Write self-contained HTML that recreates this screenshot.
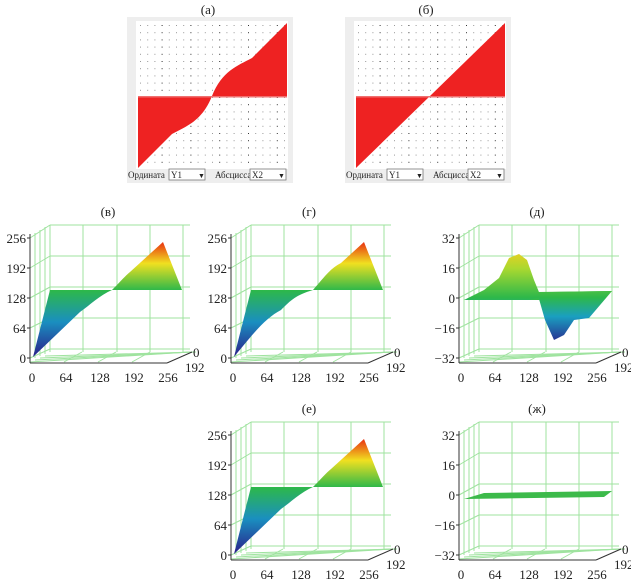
<!DOCTYPE html><html><head><meta charset="utf-8"><style>
body{margin:0;background:#fff;width:631px;height:585px;overflow:hidden}
svg{display:block}
text{font-family:"Liberation Serif",serif;fill:#222}
</style></head><body>
<svg id="s" width="631" height="585" viewBox="0 0 631 585" xmlns="http://www.w3.org/2000/svg">
<defs>
<linearGradient id="gA" gradientUnits="userSpaceOnUse" x1="0" y1="357" x2="0" y2="240">
<stop offset="0" stop-color="#2a1f8a"/><stop offset="0.3" stop-color="#1a8fc0"/><stop offset="0.57" stop-color="#2db84a"/><stop offset="0.8" stop-color="#f0e020"/><stop offset="1" stop-color="#e82010"/></linearGradient>
<linearGradient id="gD" gradientUnits="userSpaceOnUse" x1="0" y1="345" x2="0" y2="250">
<stop offset="0" stop-color="#2a1f8a"/><stop offset="0.3" stop-color="#1a9fc0"/><stop offset="0.5" stop-color="#2db84a"/><stop offset="0.8" stop-color="#a8d830"/><stop offset="1" stop-color="#f0d020"/></linearGradient>
</defs>
<g id="top"></g>
<g id="p"></g>
</svg>
<script>
const NS="http://www.w3.org/2000/svg";
const P=document.getElementById('p');
function el(t,a,par,txt){const e=document.createElementNS(NS,t);for(const k in a)e.setAttribute(k,a[k]);if(txt!==undefined)e.textContent=txt;(par||P).appendChild(e);return e;}
const T=document.getElementById('top');
function topPanel(ox,title,curvy){
  el('text',{x:ox+81,y:14,'font-size':13,'text-anchor':'middle'},T,title);
  el('rect',{x:ox,y:17,width:166,height:166,fill:'#eeeeee'},T);
  el('rect',{x:ox+9,y:21,width:152,height:148,fill:'#fff'},T);
  for(let x=ox+13;x<ox+160;x+=7.2)for(let y=25;y<168;y+=7.2)el('rect',{x:x,y:y,width:1,height:1,fill:(Math.round((x-ox-13)/7.2)%4==3)?'#333':'#999'},T);
  const cx=ox+85,cy=96,L=ox+11,R=ox+160;
  if(curvy){
    el('path',{d:`M${cx},${cy} C${cx+10},${cy-25} ${cx+25},${cy-30} ${cx+40},${cy-38} L${R},23 L${R},${cy} Z`,fill:'#ee2222'},T);
    el('path',{d:`M${cx},${cy} C${cx-10},${cy+25} ${cx-25},${cy+30} ${cx-40},${cy+38} L${L},168 L${L},${cy} Z`,fill:'#ee2222'},T);
  }else{
    el('path',{d:`M${cx},${cy} L${R},23 L${R},${cy} Z`,fill:'#ee2222'},T);
    el('path',{d:`M${cx},${cy} L${L},168 L${L},${cy} Z`,fill:'#ee2222'},T);
  }
  el('rect',{x:L,y:cy,width:R-L,height:1.5,fill:'#f07070'},T);
  el('text',{x:ox+1,y:178,'font-size':9},T,'Ордината');
  el('rect',{x:ox+42,y:169,width:36,height:11,fill:'#fff',stroke:'#777','stroke-width':0.8},T);
  el('text',{x:ox+44,y:178,'font-size':9},T,'Y1');
  el('text',{x:ox+71,y:178,'font-size':7},T,'▼');
  el('text',{x:ox+88,y:178,'font-size':9},T,'Абсцисса');
  el('rect',{x:ox+123,y:169,width:36,height:11,fill:'#fff',stroke:'#777','stroke-width':0.8},T);
  el('text',{x:ox+125,y:178,'font-size':9},T,'X2');
  el('text',{x:ox+151,y:178,'font-size':7},T,'▼');
}
topPanel(127,'(а)',true);
topPanel(345,'(б)',false);

const gc='#9fe39f';
function frame(ox,oy,title,ylabs){
  const g=el('g',{transform:`translate(${ox},${oy})`});
  el('text',{x:108,y:216,'font-size':13,'text-anchor':'middle'},g,title);
  const bx=[50,83,117,150,183], by=[225,256,287,318,349];
  bx.forEach(x=>el('line',{x1:x,y1:225,x2:x,y2:352,stroke:gc,'stroke-width':1},g));
  by.forEach(y=>el('line',{x1:50,y1:y,x2:190,y2:y,stroke:gc,'stroke-width':1},g));
  [0,1,2,3,4].forEach(i=>{const fy=238+30*i;el('line',{x1:30,y1:fy,x2:50,y2:225+31*i,stroke:gc},g);});
  for(let k=1;k<4;k++)el('line',{x1:30+k*5,y1:236-k*3,x2:30+k*5,y2:360-k*2,stroke:gc},g);
  for(let k=0;k<4;k++)el('line',{x1:30+k*5,y1:362-k*2,x2:190+k*2,y2:352,stroke:gc},g);
  [64,98,132].forEach(x=>el('line',{x1:x,y1:362,x2:x+18,y2:352,stroke:gc},g));
  el('line',{x1:30,y1:234,x2:30,y2:363,stroke:'#333','stroke-width':1},g);
  el('line',{x1:30,y1:363,x2:167,y2:363,stroke:'#333','stroke-width':1},g);
  el('line',{x1:167,y1:363,x2:192,y2:352,stroke:'#333','stroke-width':1},g);
  ylabs.forEach((t,i)=>{el('text',{x:26,y:243+30*i,'font-size':13,'text-anchor':'end'},g,t);el('line',{x1:27,y1:238+30*i,x2:30,y2:238+30*i,stroke:'#333'},g);});
  ['0','64','128','192','256'].forEach((t,i)=>el('text',{x:32+34*i,y:382,'font-size':13,'text-anchor':'middle'},g,t));
  el('text',{x:193,y:357,'font-size':13},g,'0');
  el('text',{x:185,y:372,'font-size':13},g,'192');
  return g;
}
const Y1=['256','192','128','64','0'],Y2=['32','16','0','−16','−32'];
function ramp(g,curvy){
  if(curvy){
    el('path',{d:`M33,357 L50,290 L112,290 C95,295 90,300 80,310 C65,318 55,330 33,357 Z`,fill:'url(#gA)'},g);
    el('path',{d:`M112,290 C125,275 130,268 140,263 L163,242 L182,290 Z`,fill:'url(#gA)'},g);
  }else{
    el('path',{d:`M33,357 L50,290 L112,290 C100,295 90,305 80,312 Z`,fill:'url(#gA)'},g);
    el('path',{d:`M112,290 C120,282 125,276 130,272 L163,242 L182,290 Z`,fill:'url(#gA)'},g);
  }
}
let g;
g=frame(0,0,'(в)',Y1); ramp(g,false);
g=frame(201,0,'(г)',Y1); ramp(g,true);
g=frame(201,197,'(е)',Y1); ramp(g,false);
g=frame(429,0,'(д)',Y2);
el('path',{d:'M35,300 L60,293 L183,291 L170,300 Z',fill:'#33b84a'},g);
el('path',{d:'M35,300 L55,290 L70,278 L80,258 L90,254 L98,260 L105,280 L112,297 L100,300 Z',fill:'url(#gD)'},g);
el('path',{d:'M108,292 L116,320 L125,340 L135,335 L145,320 L160,318 L183,291 Z',fill:'url(#gD)'},g);
g=frame(429,197,'(ж)',Y2);
el('path',{d:'M35,302 L55,296 L183,294 L175,300 Z',fill:'#3cba4a'},g);
</script>
</body></html>
